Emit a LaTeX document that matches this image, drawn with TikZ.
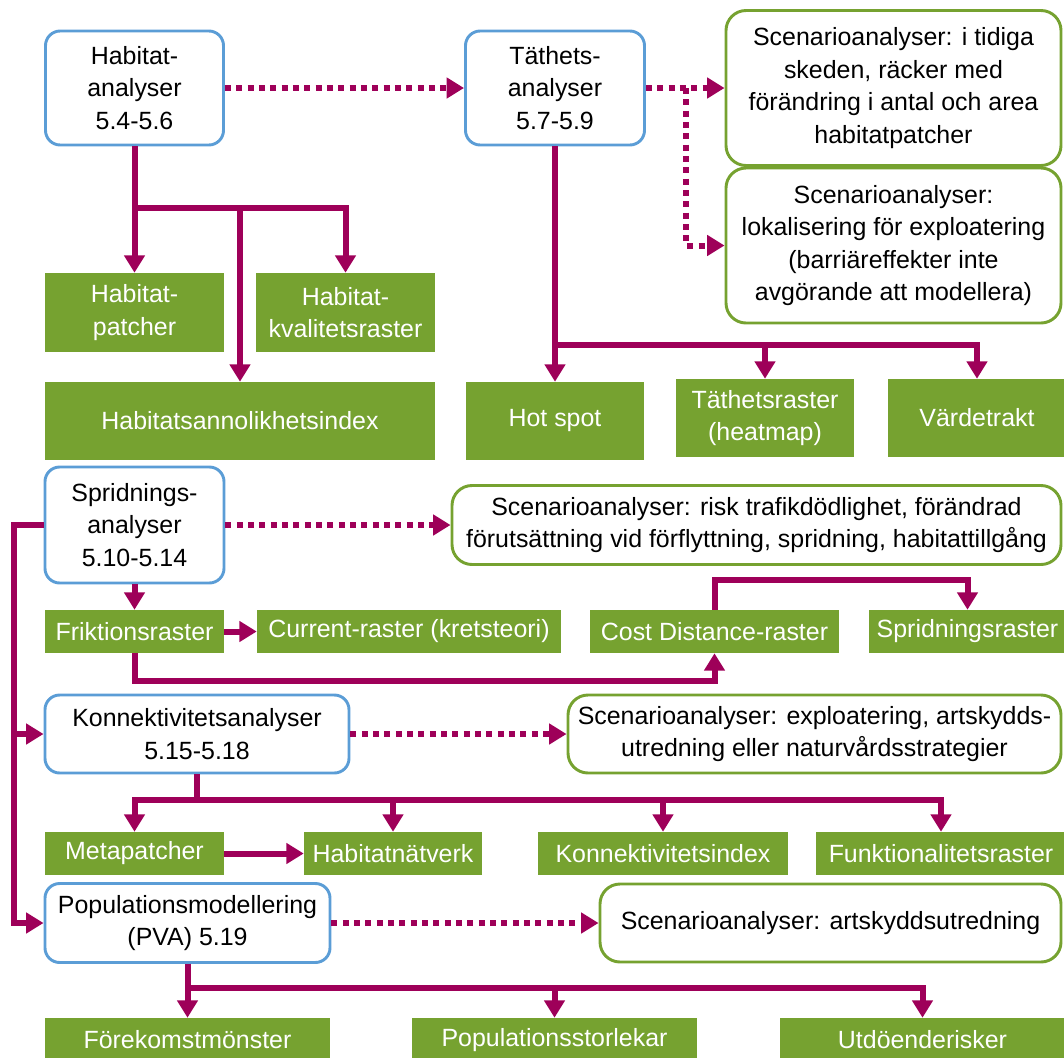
\documentclass[tikz,border=0pt]{standalone}
\usepackage{fontspec}
\setmainfont{Liberation Sans}
\usetikzlibrary{arrows.meta}

\definecolor{anablue}{RGB}{91,157,214}
\definecolor{resgreen}{RGB}{118,162,48}
\definecolor{flowred}{RGB}{158,0,89}

\tikzset{
    sz/.style 2 args={minimum width=#1*0.75pt, minimum height=#2*0.75pt},
    txt/.style={align=center, inner sep=1pt, font=\fontsize{18.7}{24.4}\selectfont},
    ana/.style={txt, draw=anablue, line width=2.2pt, rounded corners=11pt, fill=white},
    scen/.style={ana, draw=resgreen, rounded corners=15pt},
    res/.style={txt, fill=resgreen, text=white},
    flow/.style={draw=flowred, line width=4.5pt, -{Triangle[width=15pt,length=13pt]}},
    dotflow/.style={flow, dash pattern=on 4.5pt off 4pt},
}

\begin{document}
\begin{tikzpicture}[x=0.75pt,y=-0.75pt]
    \useasboundingbox (0,0) rectangle (1064,1057);

    \node[ana, sz={178}{114}] (hab) at (134.5,88) {Habitat-\\analyser\\5.4-5.6};
    \node[ana, sz={179}{114}] (tat) at (555,88) {Täthets-\\analyser\\5.7-5.9};
    \node[scen, sz={335}{155}] (scA) at (893.5,88) {Scenarioanalyser: i tidiga\\skeden, räcker med\\förändring i antal och area\\habitatpatcher};
    \node[scen, sz={335}{155}] (scB) at (893.5,245.5) {Scenarioanalyser:\\lokalisering för exploatering\\(barriäreffekter inte\\avgörande att modellera)};
    \node[res, sz={179}{79}] (hpatch) at (134.5,312.5) {Habitat-\\patcher};
    \node[res, sz={179}{79}] (hkval) at (345.5,312.5) {Habitat-\\kvalitetsraster};
    \node[res, sz={390}{78}] (hsann) at (240,421) {Habitatsannolikhetsindex};
    \node[res, sz={178}{78}] (hot) at (555,421) {Hot spot};
    \node[res, sz={178}{78}] (tras) at (765,418) {Täthetsraster\\(heatmap)};
    \node[res, sz={178}{78}] (vard) at (977,418) {Värdetrakt};

    \node[ana, sz={179}{116}] (spr) at (134.5,525) {Spridnings-\\analyser\\5.10-5.14};
    \node[scen, sz={609}{79}] (scC) at (756.5,525) {Scenarioanalyser: risk trafikdödlighet, förändrad\\förutsättning vid förflyttning, spridning, habitattillgång};
    \node[res, sz={179}{43}] (frik) at (134.5,631.5) {Friktionsraster};
    \node[res, sz={304}{43}] (curr) at (409,631.5) {Current-raster (kretsteori)};
    \node[res, sz={249}{43}] (cost) at (714.5,631.5) {Cost Distance-raster};
    \node[res, sz={197}{43}] (sprr) at (967.5,631.5) {Spridningsraster};

    \node[ana, sz={304}{78}] (kon) at (197,734) {Konnektivitetsanalyser\\5.15-5.18};
    \node[scen, sz={493}{78}] (scD) at (814.5,734) {Scenarioanalyser: exploatering, artskydds-\\utredning eller naturvårdsstrategier};
    \node[res, sz={179}{43}] (meta) at (134.5,853.5) {Metapatcher};
    \node[res, sz={178}{43}] (hnat) at (393,853.5) {Habitatnätverk};
    \node[res, sz={250}{43}] (kidx) at (663,853.5) {Konnektivitetsindex};
    \node[res, sz={250}{43}] (funk) at (941,853.5) {Funktionalitetsraster};

    \node[ana, sz={285}{79}] (pop) at (187.5,923) {Populationsmodellering\\(PVA) 5.19};
    \node[scen, sz={461}{78}] (scE) at (830.5,923) {Scenarioanalyser: artskyddsutredning};
    \node[res, sz={285}{44}] (fore) at (187.5,1040) {Förekomstmönster};
    \node[res, sz={285}{44}] (popst) at (554.5,1040) {Populationsstorlekar};
    \node[res, sz={285}{44}] (utd) at (922.5,1040) {Utdöenderisker};

    \coordinate (tsplit) at (686,88);
    \coordinate (hbus) at (134.5,208);
    \coordinate (tbus) at (555,345);
    \coordinate (sbus) at (14,525);
    \coordinate (kbus) at (197,800);
    \coordinate (pbus) at (187.5,988);

    \draw[dotflow] (hab) -- (tat);
    \draw[dotflow] (tat) -- (scA);
    \draw[dotflow] (tsplit) |- (scB);
    \draw[flow] (hab) -- (hpatch);
    \draw[flow] (hbus) -| (hkval);
    \draw[flow] (hbus -| hsann) -- (hsann);
    \draw[flow] (tat) -- (hot);
    \draw[flow] (tbus) -| (tras);
    \draw[flow] (tbus) -| (vard);

    \draw[dotflow] (spr) -- (scC);
    \draw[flow] (spr.west) -- (sbus) |- (kon);
    \draw[flow] (sbus) |- (pop);
    \draw[flow] (spr) -- (frik);
    \draw[flow] (frik) -- (curr);
    \draw[flow] (frik.south) -- ++(0,28) -| (cost);
    \draw[flow] (cost.north) -- ++(0,-30) -| (sprr);

    \draw[dotflow] (kon) -- (scD);
    \foreach \t in {meta,hnat,kidx,funk}
        \draw[flow] (kon.south) -- (kbus) -| (\t);
    \draw[flow] (meta) -- (hnat);

    \draw[dotflow] (pop) -- (scE);
    \foreach \t in {fore,popst,utd}
        \draw[flow] (pop.south) -- (pbus) -| (\t);
\end{tikzpicture}
\end{document}
